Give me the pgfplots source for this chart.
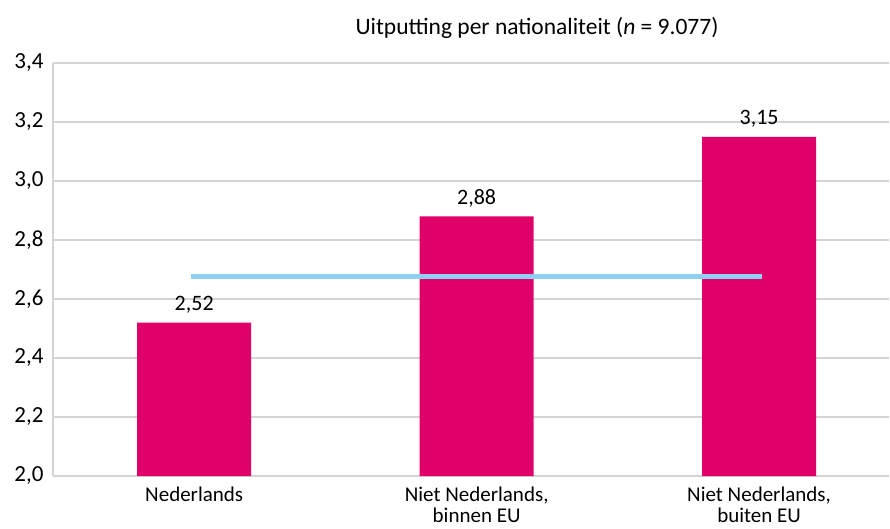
\documentclass[border=0pt]{standalone}
\usepackage{pgfplots}
\pgfplotsset{compat=1.18}
\usepackage{fontspec}
\setmainfont{Carlito}
\definecolor{bar}{HTML}{E0006A}
\definecolor{avg}{HTML}{8FD0F2}
\definecolor{gridc}{HTML}{D4D4D4}
\begin{document}
\begin{tikzpicture}[x=1pt,y=1pt]
\begin{axis}[
  scale only axis, width=836pt, height=413pt,
  xmin=-0.5, xmax=2.46, ymin=2.0, ymax=3.4,
  ytick={2.0,2.2,...,3.4},
  xtick={0,1,2},
  xticklabels={Nederlands, {Niet Nederlands,\\binnen EU}, {Niet Nederlands,\\buiten EU}},
  xticklabel style={align=center, font=\fontsize{21}{21}\selectfont, yshift=-7pt},
  yticklabel style={font=\fontsize{23}{24}\selectfont, xshift=-6pt},
  /pgf/number format/.cd, use comma, fixed, fixed zerofill, precision=1, assume math mode=true,
  /pgfplots/.cd,
  axis x line*=bottom, axis y line*=left,
  axis line style={gridc, line width=1.2pt, -},
  ymajorgrids, grid style={gridc, line width=1.2pt},
  major tick length=0pt,
  title={Uitputting per nationaliteit (\textit{n} = 9.077)},
  title style={font=\fontsize{23.5}{26}\selectfont, yshift=15pt, xshift=66pt},
  clip=false,
]
\addplot[ybar, bar width=114pt, fill=bar, draw=none,
  nodes near coords, point meta=explicit symbolic,
  every node near coord/.style={font=\fontsize{22}{24}\selectfont, black, yshift=6pt}]
  coordinates {(0,2.52) [2,52] (1,2.88) [2,88] (2,3.15) [3,15]};
\addplot[avg, line width=5pt, no marks] coordinates {(-0.01,2.675) (2.01,2.675)};
\end{axis}
\pgfresetboundingbox
\path (current axis.south west) ++(-53pt,-52pt) rectangle ++(890pt,528pt);
\end{tikzpicture}
\end{document}
